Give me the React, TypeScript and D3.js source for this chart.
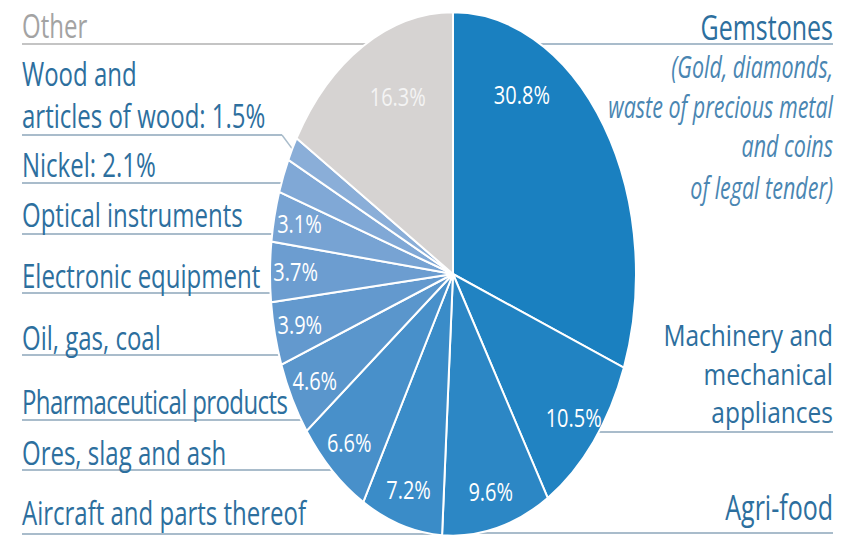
import * as d3 from "d3";

// slices, clockwise from 12 o'clock
const categories = [
  "Gemstones",
  "Machinery and mechanical appliances",
  "Agri-food",
  "Aircraft and parts thereof",
  "Ores, slag and ash",
  "Pharmaceutical products",
  "Oil, gas, coal",
  "Electronic equipment",
  "Optical instruments",
  "Nickel",
  "Wood and articles of wood",
  "Other",
];
const shares = [30.8, 10.5, 9.6, 7.2, 6.6, 4.6, 3.9, 3.7, 3.1, 2.1, 1.5, 16.3];
const sliceColors = [
  "#1a80c0", "#2183c2", "#2c87c5", "#3a8cc8", "#4890ca", "#5a96cc",
  "#6399ce", "#6c9dd0", "#77a3d3", "#80a8d6", "#8aaed8", "#d6d3d2",
];

// text blocks beside the pie
const leftLabels = [
  { lines: ["Other"], cat: 11 },
  { lines: ["Wood and", "articles of wood: 1.5%"], cat: 10 },
  { lines: ["Nickel: 2.1%"], cat: 9 },
  { lines: ["Optical instruments"], cat: 8 },
  { lines: ["Electronic equipment"], cat: 7 },
  { lines: ["Oil, gas, coal"], cat: 6 },
  { lines: ["Pharmaceutical products"], cat: 5 },
  { lines: ["Ores, slag and ash"], cat: 4 },
  { lines: ["Aircraft and parts thereof"], cat: 3 },
];
const rightLabels = [
  { lines: ["Gemstones"], cat: 0 },
  { lines: ["Machinery and", "mechanical", "appliances"], cat: 1 },
  { lines: ["Agri-food"], cat: 2 },
];
const gemNote = ["(Gold, diamonds,", "waste of precious metal", "and coins", "of legal tender)"];

const W = 850;
const H = 538;
const cx = 453;
const cy = 274;
const R = 183;
const SY = 1.43; // the picture is stretched vertically
const TY = 1.4;
const FONT = "'Open Sans', sans-serif";
const LABEL = "#2d6f9e";
const RULE = "#a9bccb";

// baselines of the text lines and the y of each underline
const leftLayout = [
  { base: [38], rule: 44 },
  { base: [86, 128], rule: 135 },
  { base: [177], rule: 183 },
  { base: [227], rule: 234 },
  { base: [288], rule: 293 },
  { base: [350], rule: 355 },
  { base: [414], rule: 420 },
  { base: [465], rule: 470 },
  { base: [525], rule: 534 },
];
const rightLayout = [
  { base: [40], rule: 44 },
  { base: [346, 385, 423], rule: 432 },
  { base: [520], rule: 533 },
];
const noteBase = [78, 118, 157, 199];

export default function App() {
  const arcs = d3.pie<number>().sort(null).value((d) => d)(shares);
  const arc = d3.arc<d3.PieArcDatum<number>>().innerRadius(0).outerRadius(R);

  const pt = (a: number, r: number) => [cx + r * Math.sin(a), cy - r * Math.cos(a) * SY];

  const pctPos = (i: number) => {
    const a = arcs[i];
    let frac = 0.5;
    let rf = 0.86;
    if (i === 0) { frac = 0.26; rf = 0.78; }
    if (i === 11) { frac = 0.59; rf = 0.74; }
    return pt(a.startAngle + frac * (a.endAngle - a.startAngle), rf * R);
  };

  const wood = arcs[10];
  const woodEdge = pt((wood.startAngle + wood.endAngle) / 2, R);

  return (
    <div style={{ position: "absolute", left: 0, top: 0 }}>
      <svg width={W} height={H} style={{ display: "block", background: "#fff" }} fontFamily={FONT}>
        {/* rules under the labels, running in behind the pie */}
        {leftLabels.map((l, i) => (
          <line
            key={"lr" + i}
            x1={22}
            x2={l.cat === 10 ? 282 : cx}
            y1={leftLayout[i].rule}
            y2={leftLayout[i].rule}
            stroke={l.cat === 11 ? "#c4c4c4" : RULE}
            strokeWidth={2}
          />
        ))}
        <line x1={282} y1={leftLayout[1].rule} x2={woodEdge[0]} y2={woodEdge[1]} stroke={RULE} strokeWidth={1.5} />
        {rightLabels.map((l, i) => (
          <line key={"rr" + i} x1={cx} x2={833} y1={rightLayout[i].rule} y2={rightLayout[i].rule} stroke={RULE} strokeWidth={2} />
        ))}

        <g transform={`translate(${cx},${cy}) scale(1,${SY})`}>
          {arcs.map((a, i) => (
            <path
              key={categories[i]}
              d={arc(a) ?? ""}
              fill={sliceColors[i]}
              stroke="#fff"
              strokeWidth={2}
              vectorEffect="non-scaling-stroke"
            />
          ))}
        </g>

        {arcs.map((a, i) => {
          if (i === 9 || i === 10) return null;
          const [x, y] = pctPos(i);
          return (
            <text
              key={"p" + i}
              transform={`translate(${x},${y}) scale(1,1.25)`}
              textAnchor="middle"
              dy="0.35em"
              fontSize={20}
              fill={i === 11 ? "#f4f4f4" : "#ffffff"}
            >
              {a.data.toFixed(1)}%
            </text>
          );
        })}

        {leftLabels.map((l, i) =>
          l.lines.map((s, j) => (
            <text
              key={"lt" + i + j}
              transform={`translate(22,${leftLayout[i].base[j]}) scale(1,${TY})`}
              fontSize={24}
              letterSpacing={l.cat === 5 ? -0.6 : 0}
              fill={l.cat === 11 ? "#a3a3a3" : LABEL}
            >
              {s}
            </text>
          ))
        )}

        {rightLabels.map((l, i) =>
          l.lines.map((s, j) => (
            <text
              key={"rt" + i + j}
              transform={`translate(833,${rightLayout[i].base[j]}) scale(1,${l.lines.length > 1 ? 1.16 : TY})`}
              textAnchor="end"
              fontSize={l.lines.length > 1 ? 24.5 : 25}
              fill={LABEL}
            >
              {s}
            </text>
          ))
        )}

        {gemNote.map((s, j) => (
          <text
            key={"n" + j}
            transform={`translate(833,${noteBase[j]}) scale(1,${TY})`}
            textAnchor="end"
            fontSize={21.5}
            fontStyle="italic"
            fill="#4a86b2"
          >
            {s}
          </text>
        ))}
      </svg>
    </div>
  );
}
